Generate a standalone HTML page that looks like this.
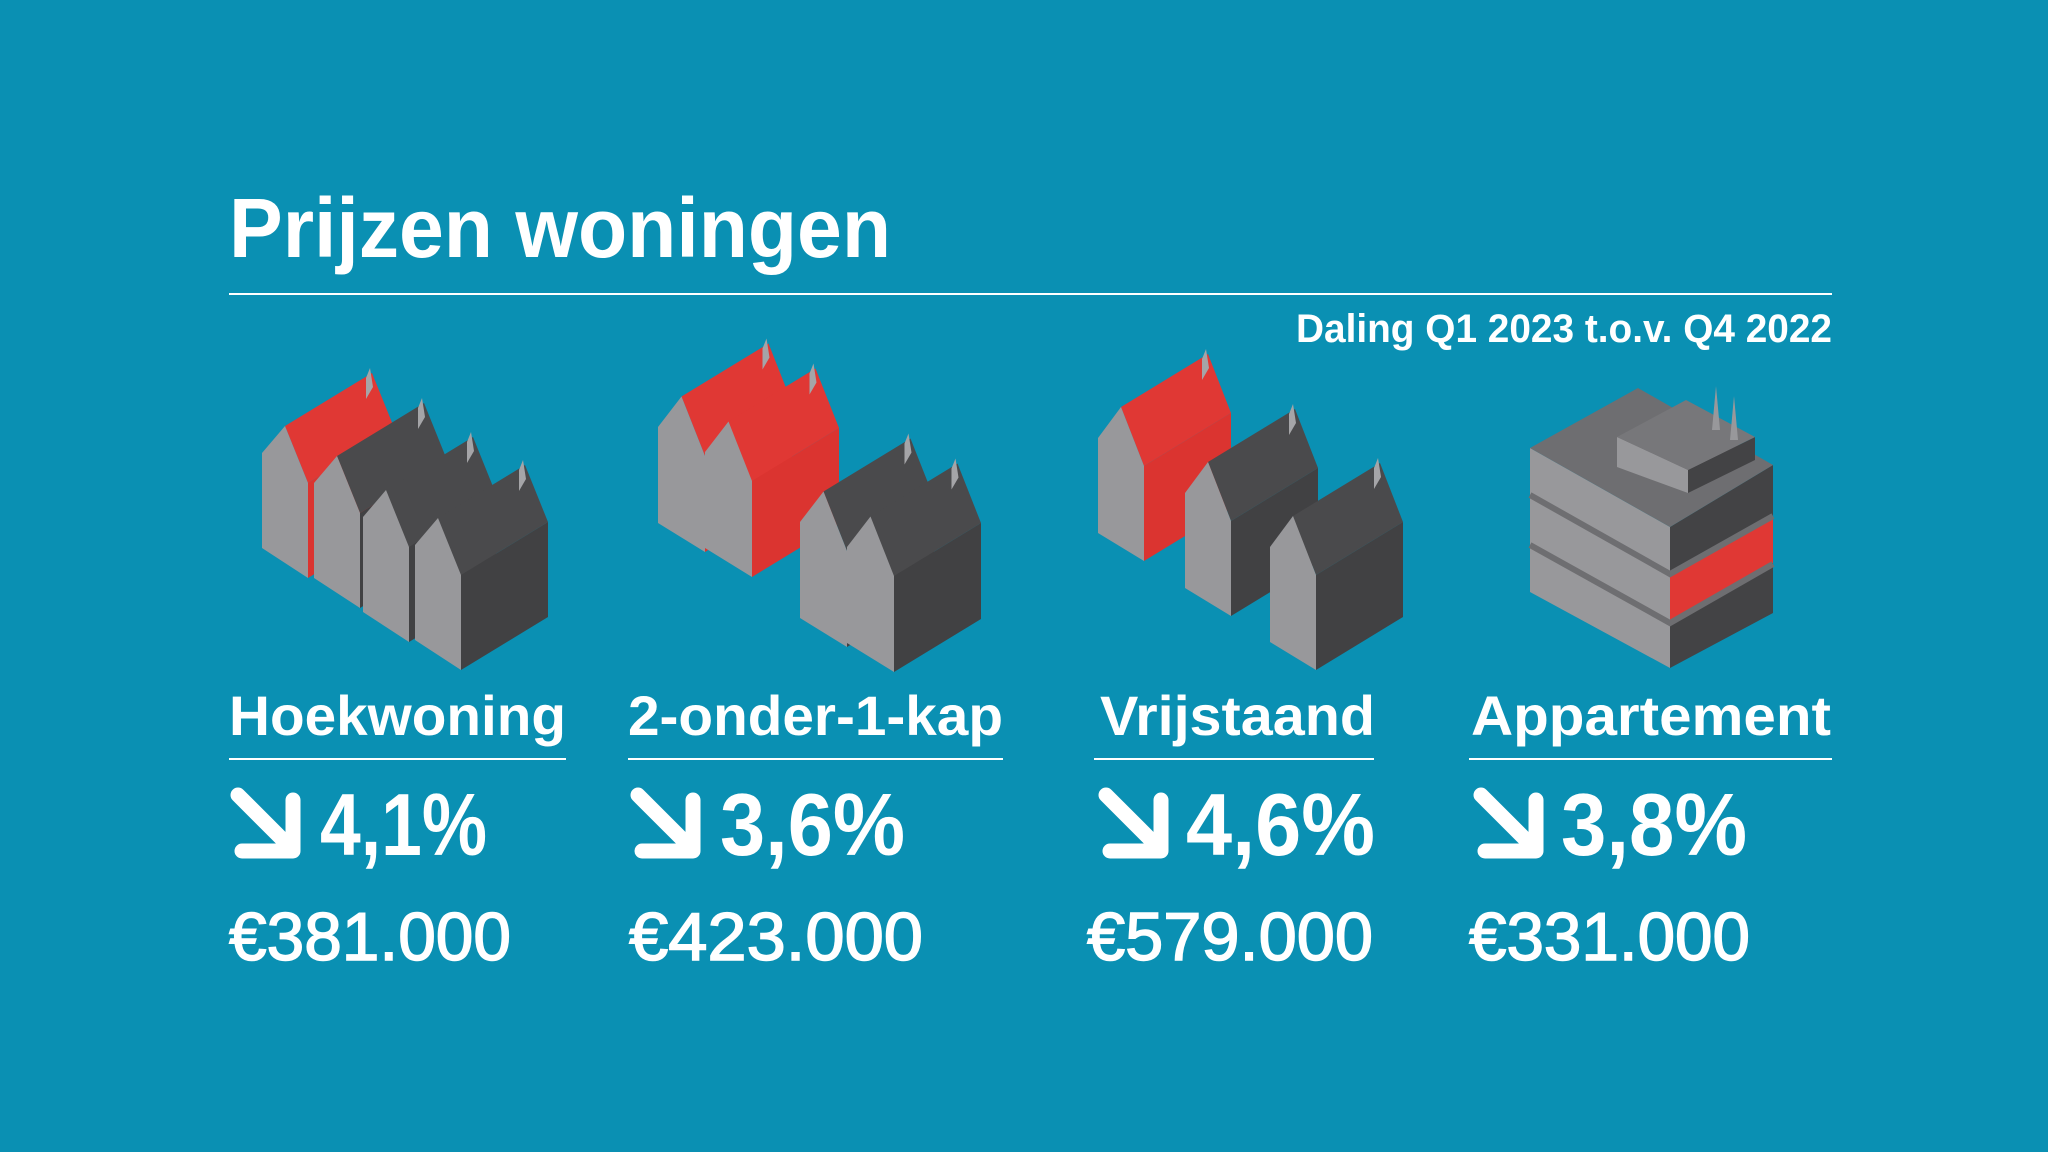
<!DOCTYPE html>
<html><head><meta charset="utf-8">
<style>
html,body{margin:0;padding:0;background:#0a90b3;}
svg{display:block;}
text{font-family:"Liberation Sans",sans-serif;fill:#fff;}
</style></head>
<body>
<svg id="s" width="2048" height="1152" viewBox="0 0 2048 1152">
<rect x="0" y="0" width="2048" height="1152" fill="#0a90b3"/>
<text x="229" y="257" font-size="84" font-weight="bold" textLength="662" lengthAdjust="spacingAndGlyphs">Prijzen woningen</text>
<line x1="229" y1="294" x2="1832" y2="294" stroke="#fff" stroke-width="2"/>
<text x="1832" y="342" font-size="40" font-weight="bold" text-anchor="end" textLength="536" lengthAdjust="spacingAndGlyphs">Daling Q1 2023 t.o.v. Q4 2022</text>
<g id="icons"></g>
<g id="cols"></g>
</svg>
<script>
const categories=["Hoekwoning","2-onder-1-kap","Vrijstaand","Appartement"];
const changes=["4,1%","3,6%","4,6%","3,8%"];
const prices=["€381.000","€423.000","€579.000","€331.000"];
const NS="http://www.w3.org/2000/svg";
function mk(tag,attrs,parent){const e=document.createElementNS(NS,tag);for(const k in attrs)e.setAttribute(k,attrs[k]);parent.appendChild(e);return e;}
function pts(a){return a.map(p=>p[0].toFixed(1)+","+p[1].toFixed(1)).join(" ");}
const icons=document.getElementById("icons");
function house(bx,by,w,gy,h,ad,D,red,name){
  const g=mk("g",{},icons);
  
  
  const BL=[bx,by],BR=[bx+w,by+gy],TL=[bx,by-h],TR=[BR[0],BR[1]-h];
  const AP=[bx+w/2,(TL[1]+TR[1])/2-ad];
  const add=(p)=>[p[0]+D[0],p[1]+D[1]];
  const roofC=red?"#e03834":"#4a4a4c", wallC=red?"#db3430":"#414143";
  mk("polygon",{points:pts([BR,TR,add(TR),add(BR)]),fill:wallC},g);
  mk("polygon",{points:pts([AP,add(AP),add(TR),TR]),fill:roofC},g);
  mk("polygon",{points:pts([BL,BR,TR,AP,TL]),fill:"#98989b"},g);
  const c=add(AP);
  mk("polygon",{points:pts([[c[0]-6,c[1]+26],[c[0]-6,c[1]+5],[c[0]-2,c[1]-5],[c[0]+1,c[1]+14]]),fill:"#a5a5a8"},g);
}
// group 1
[[262,548,true],[314,578,false],[363,612,false],[415,640,false]].forEach((h,i)=>house(h[0],h[1],46,30,95,42,[87,-53],h[2],"hoekwoning-house-"+(i+1)));
// group 2
[[658,523,true],[705,548,true],[800,618,false],[847,643,false]].forEach((h,i)=>house(h[0],h[1],47,29,96,45,[87,-53],h[2],"twee-onder-een-kap-house-"+(i+1)));
// group 3
[[1098,533,true],[1185,588,false],[1270,642,false]].forEach((h,i)=>house(h[0],h[1],46,28,95,45,[87,-53],h[2],"vrijstaand-house-"+(i+1)));
// apartment
(function(){
  const g=mk("g",{},icons);
  
  
  mk("polygon",{points:pts([[1530,448],[1670,527],[1670,668],[1530,592]]),fill:"#98989b"},g);
  mk("polygon",{points:pts([[1670,527],[1773,465],[1773,613],[1670,668]]),fill:"#434345"},g);
  mk("polygon",{points:pts([[1670,575],[1773,517],[1773,563],[1670,621]]),fill:"#e03834"},g);
  mk("polygon",{points:pts([[1530,448],[1638,388],[1773,465],[1670,527]]),fill:"#6e6e71"},g);
  mk("polyline",{points:pts([[1530,495],[1670,574],[1773,516]]),stroke:"#6e6e71","stroke-width":6,fill:"none"},g);
  mk("polyline",{points:pts([[1530,545],[1670,623],[1773,564]]),stroke:"#6e6e71","stroke-width":6,fill:"none"},g);
  mk("polygon",{points:pts([[1617,437],[1688,470],[1688,493],[1617,467]]),fill:"#98989b"},g);
  mk("polygon",{points:pts([[1688,470],[1755,437],[1755,460],[1688,493]]),fill:"#434345"},g);
  mk("polygon",{points:pts([[1617,437],[1686,400],[1755,437],[1688,470]]),fill:"#77777a"},g);
  mk("polygon",{points:pts([[1712,430],[1716,386],[1720,430]]),fill:"#98989b"},g);
  mk("polygon",{points:pts([[1730,440],[1734,396],[1738,440]]),fill:"#98989b"},g);
})();
// columns
const cols=document.getElementById("cols");
const labelX=[229,628,1100,1471], labelW=[337,375,275,360];
const ruleX=[[229,566],[628,1003],[1094,1374],[1469,1832]];
const arrowX=[229,629,1097,1472];
const pctX=[320,720,1186,1561], pctW=[167,185,189,186];
const priceX=[229,629,1087,1469], priceW=[282,294,286,281];
categories.forEach((c,i)=>{
  const t=mk("text",{x:labelX[i],y:735,"font-size":56,"font-weight":"bold",textLength:labelW[i],lengthAdjust:"spacingAndGlyphs"},cols);
  t.textContent=c;
  
  
  const l=mk("line",{x1:ruleX[i][0],y1:759,x2:ruleX[i][1],y2:759,stroke:"#fff","stroke-width":2},cols);
  
  
  const a=mk("g",{transform:"translate("+arrowX[i]+",786)"},cols);
  
  
  mk("path",{d:"M9 9 L56 56",stroke:"#fff","stroke-width":15,"stroke-linecap":"round",fill:"none"},a);
  mk("path",{d:"M64 14 L64 65 L13 65",stroke:"#fff","stroke-width":15,"stroke-linecap":"round","stroke-linejoin":"round",fill:"none"},a);
  const p=mk("text",{x:pctX[i],y:855,"font-size":88,"font-weight":"bold",textLength:pctW[i],lengthAdjust:"spacingAndGlyphs"},cols);
  p.textContent=changes[i];
  
  
  const v=mk("text",{x:priceX[i],y:960,"font-size":68,textLength:priceW[i],lengthAdjust:"spacingAndGlyphs",stroke:"#fff","stroke-width":1.5},cols);
  v.textContent=prices[i];
  
  
});
</script>
</body></html>
